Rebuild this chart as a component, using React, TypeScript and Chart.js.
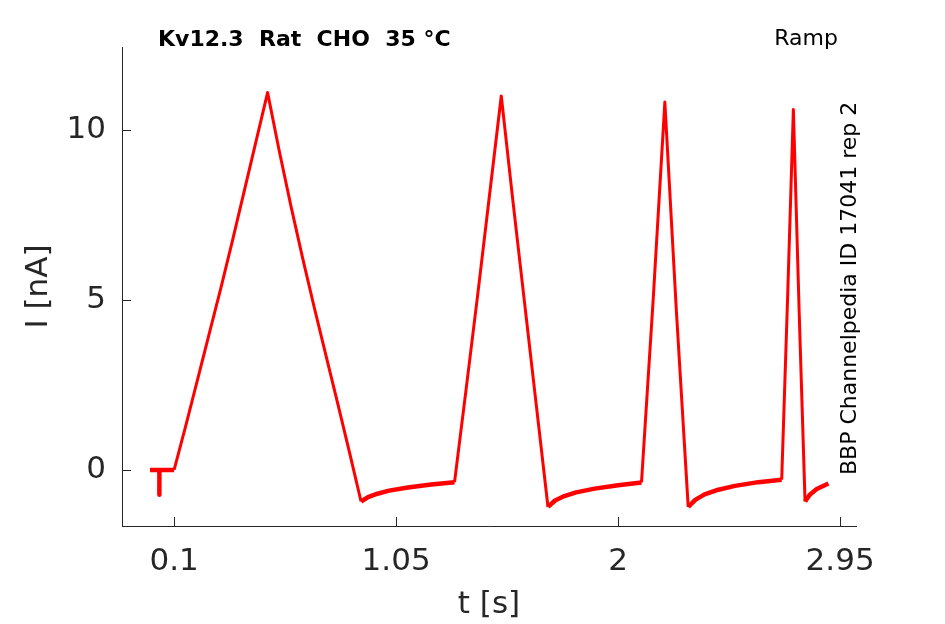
import React, { useEffect, useRef } from 'react'
import { Chart, registerables } from 'chart.js'

Chart.register(...registerables)

// recorded trace (s, nA)
const timeS = [
  -0.003, 0.037, 0.037, 0.037, 0.1,
  0.15, 0.2, 0.25, 0.3, 0.35, 0.4, 0.45, 0.5,
  0.55, 0.6, 0.65, 0.7, 0.75, 0.8, 0.85, 0.9,
  0.93, 0.97, 1.02, 1.1, 1.2, 1.3,
  1.35, 1.4, 1.45, 1.5,
  1.55, 1.6, 1.65, 1.7,
  1.73, 1.77, 1.82, 1.9, 2.0, 2.1,
  2.15, 2.2,
  2.25, 2.3,
  2.33, 2.37, 2.42, 2.5, 2.6, 2.7,
  2.725, 2.75,
  2.775, 2.8,
  2.82, 2.85, 2.9,
]
const currentNA = [
  0, 0, -0.73, 0, 0,
  1.3, 2.65, 4.0, 5.35, 6.75, 8.2, 9.65, 11.1,
  9.38, 7.76, 6.23, 4.77, 3.36, 1.96, 0.53, -0.93,
  -0.8, -0.7, -0.61, -0.52, -0.43, -0.36,
  2.4, 5.2, 8.1, 11.0,
  7.9, 4.9, 1.9, -1.09,
  -0.9, -0.77, -0.66, -0.55, -0.45, -0.37,
  5.0, 10.82,
  4.6, -1.09,
  -0.88, -0.72, -0.6, -0.47, -0.36, -0.29,
  5.0, 10.6,
  4.6, -0.93,
  -0.73, -0.56, -0.4,
]

const xTicks = [0.1, 1.05, 2, 2.95]
const yTicks = [0, 5, 10]

const title = 'Kv12.3  Rat  CHO  35 °C'
const protocol = 'Ramp'
const sourceNote = 'BBP Channelpedia ID 17041 rep 2'

const AXIS = '#262626'
const FONT = "'DejaVu Sans', sans-serif"

const decorations = {
  id: 'decorations',
  afterDraw(chart: Chart) {
    const { ctx, chartArea } = chart
    const xs = chart.scales.x
    const ys = chart.scales.y
    ctx.save()
    ctx.strokeStyle = AXIS
    ctx.lineWidth = 1
    ctx.beginPath()
    for (const v of xTicks) {
      const px = Math.round(xs.getPixelForValue(v)) + 0.5
      ctx.moveTo(px, chartArea.bottom)
      ctx.lineTo(px, chartArea.bottom - 9)
    }
    for (const v of yTicks) {
      const py = Math.round(ys.getPixelForValue(v)) + 0.5
      ctx.moveTo(chartArea.left, py)
      ctx.lineTo(chartArea.left + 9, py)
    }
    ctx.stroke()

    ctx.fillStyle = '#000'
    ctx.textBaseline = 'middle'
    ctx.font = `bold 22px ${FONT}`
    ctx.textAlign = 'left'
    ctx.fillText(title, 158, 40)
    ctx.font = `22px ${FONT}`
    ctx.textAlign = 'right'
    ctx.fillText(protocol, 838, 39)

    ctx.translate(850, 475)
    ctx.rotate(-Math.PI / 2)
    ctx.textAlign = 'left'
    ctx.font = `22px ${FONT}`
    ctx.fillText(sourceNote, 0, 0)
    ctx.restore()
  },
}

export default function App() {
  const canvasRef = useRef<HTMLCanvasElement>(null)

  useEffect(() => {
    if (!canvasRef.current) return
    const chart = new Chart(canvasRef.current, {
      type: 'scatter',
      data: {
        datasets: [
          {
            data: timeS.map((t, i) => ({ x: t, y: currentNA[i] })),
            showLine: true,
            borderColor: '#ff0000',
            borderWidth: 3,
            pointRadius: 0,
            borderJoinStyle: 'round',
            segment: {
              borderWidth: c => (Math.abs(c.p1.parsed.y - c.p0.parsed.y) < 1 ? 4.5 : 3),
            },
          },
        ],
      },
      options: {
        animation: false,
        responsive: true,
        maintainAspectRatio: false,
        layout: { padding: { top: 47, right: 89, left: 0, bottom: 0 } },
        plugins: { legend: { display: false }, tooltip: { enabled: false } },
        scales: {
          x: {
            type: 'linear',
            min: -0.123,
            max: 3.018,
            afterBuildTicks: s => { s.ticks = xTicks.map(v => ({ value: v })) },
            afterFit: s => { s.height = 98 },
            grid: { display: true, drawOnChartArea: false, drawTicks: false },
            border: { display: true, color: AXIS, width: 1 },
            ticks: {
              color: AXIS,
              padding: 17,
              maxRotation: 0,
              font: { family: FONT, size: 31 },
              callback: v => String(v),
            },
            title: {
              display: true,
              text: 't [s]',
              color: AXIS,
              padding: { top: 0, bottom: 0 },
              font: { family: FONT, size: 31 },
            },
          },
          y: {
            min: -1.65,
            max: 12.44,
            afterBuildTicks: s => { s.ticks = yTicks.map(v => ({ value: v })) },
            afterFit: s => { s.width = 122 },
            grid: { display: true, drawOnChartArea: false, drawTicks: false },
            border: { display: true, color: AXIS, width: 1 },
            ticks: {
              color: AXIS,
              padding: 16,
              font: { family: FONT, size: 31 },
              callback: v => String(v),
            },
            title: {
              display: true,
              text: 'I [nA]',
              color: AXIS,
              padding: { top: 20, bottom: 0 },
              font: { family: FONT, size: 31 },
            },
          },
        },
      },
      plugins: [decorations],
    })
    return () => chart.destroy()
  }, [])

  return (
    <div style={{ position: 'absolute', left: 0, top: 0, width: 945, height: 624, background: '#fff' }}>
      <canvas ref={canvasRef} />
    </div>
  )
}
